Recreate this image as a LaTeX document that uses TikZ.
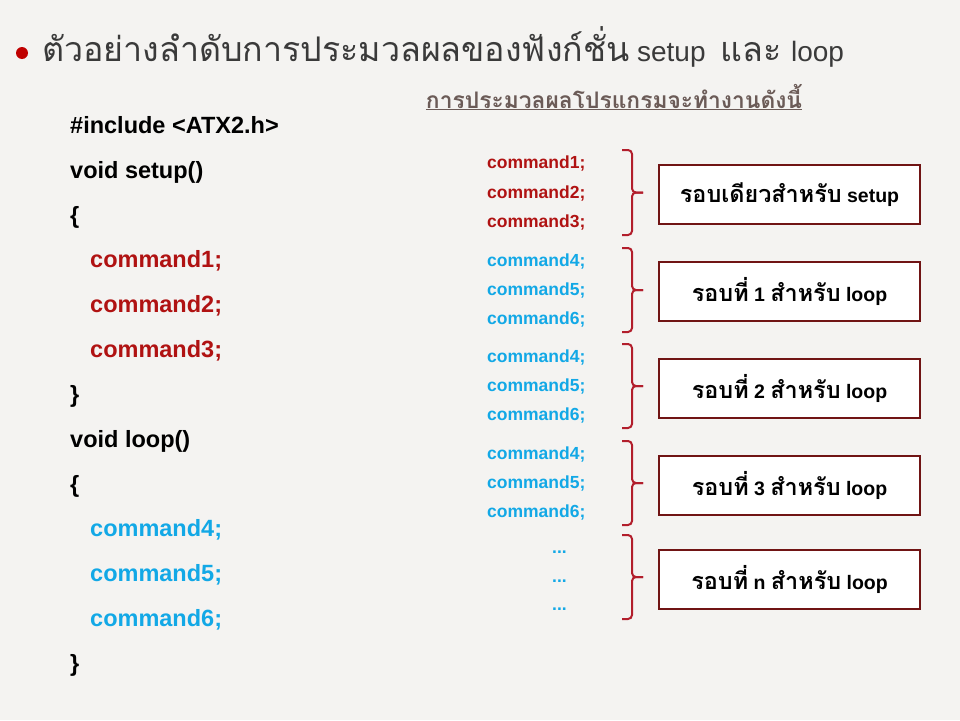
\documentclass[tikz,border=0pt]{standalone}
\usepackage{fontspec}
\setmainfont{Liberation Sans}
\newfontfamily\thaifont[Script=Thai,Scale=1.2]{Loma}
\newfontfamily\thaititle[Script=Thai,Scale=1.213]{Loma}
\usetikzlibrary{positioning}
\definecolor{pagebg}{HTML}{F4F3F1}
\definecolor{titlegray}{HTML}{3A3A3A}
\definecolor{subbrown}{HTML}{6B5B57}
\definecolor{bulletred}{HTML}{C00000}
\definecolor{codered}{HTML}{B01212}
\definecolor{codeblue}{HTML}{12A8E6}
\definecolor{bracered}{HTML}{B21E2C}
\definecolor{boxmaroon}{HTML}{701414}
\tikzset{
  titletext/.style={anchor=base west, inner sep=0pt, text=titlegray,
    font=\fontsize{28}{32}\selectfont},
  subtext/.style={anchor=base, inner sep=0pt, text=subbrown,
    font=\fontsize{19}{23}\selectfont\bfseries\thaifont},
  codeline/.style={anchor=base west, inner sep=0pt,
    font=\fontsize{23.5}{28}\selectfont\bfseries},
  runline/.style={anchor=base west, inner sep=0pt,
    font=\fontsize{17.5}{21}\selectfont\bfseries},
  roundbox/.style={draw=boxmaroon, line width=2pt, fill=white,
    minimum width=261pt, minimum height=59pt, inner sep=2pt,
    font=\fontsize{19.5}{23}\selectfont\bfseries},
  runbrace/.style={draw=bracered, line width=2pt, rounded corners=4pt},
}

\begin{document}
\begin{tikzpicture}[x=1pt, y=-1pt]
  \fill[pagebg] (0,0) rectangle (960,720);
  \useasboundingbox (0,0) rectangle (960,720);

  % heading
  \node[circle, fill=bulletred, minimum size=12pt, inner sep=0pt] (bullet) at (22,53) {};
  \node[titletext] (title) at (42,61)
    {{\thaititle ตัวอย่างลำดับการประมวลผลของฟังก์ชั่น} setup\hspace{7pt}
     {\thaititle และ}\hspace{2pt} loop};
  \node[subtext] (sub) at (614,108) {\underline{การประมวลผลโปรแกรมจะทำงานดังนี้}};

  % source code
  \node[codeline] (c1) at (70,133.5) {\#include <ATX2.h>};
  \node[codeline] (c2) at (70,178.5) {void setup()};
  \node[codeline] (c3) at (70,223.5) {\{};
  \node[codeline, text=codered] (c4) at (90,267.5) {command1;};
  \node[codeline, text=codered] (c5) at (90,312.5) {command2;};
  \node[codeline, text=codered] (c6) at (90,357.5) {command3;};
  \node[codeline] (c7) at (70,402.5) {\}};
  \node[codeline] (c8) at (70,447.5) {void loop()};
  \node[codeline] (c9) at (70,492.5) {\{};
  \node[codeline, text=codeblue] (c10) at (90,536.5) {command4;};
  \node[codeline, text=codeblue] (c11) at (90,581.5) {command5;};
  \node[codeline, text=codeblue] (c12) at (90,626.5) {command6;};
  \node[codeline] (c13) at (70,671.5) {\}};

  % run order
  \foreach \i/\y in {1/168.3, 2/198.3, 3/227.3}
    \node[runline, text=codered] (r0-\i) at (487,\y) {command\i;};
  \foreach \g/\y in {1/266.3, 2/362.3, 3/459.3} {
    \node[runline, text=codeblue] (r\g-4) at (487,\y) {command4;};
    \node[runline, text=codeblue] (r\g-5) at (487,\y+29) {command5;};
    \node[runline, text=codeblue] (r\g-6) at (487,\y+58) {command6;};
  }
  \foreach \i/\y in {1/553, 2/582, 3/610}
    \node[runline, text=codeblue] (rn-\i) at (552,\y) {...};

  % braces
  \foreach \g/\t/\b in {0/150/235, 1/248/332, 2/344/428, 3/441/525, 4/535/619} {
    \coordinate (bt\g) at (622,\t);
    \coordinate (bb\g) at (622,\b);
    \coordinate (bm\g) at (632,{(\t+\b)/2});
    \draw[runbrace] (bt\g) -| (bm\g) -- ++(11,0);
    \draw[runbrace] (bb\g) -| (bm\g) -- ++(11,0);
  }

  % passes
  \node[roundbox] (pass0) at (789.5,194.5) {{\thaifont รอบเดียวสำหรับ} setup};
  \node[roundbox] (pass1) at (789.5,291.5) {{\thaifont รอบที่} 1 {\thaifont สำหรับ} loop};
  \node[roundbox] (pass2) at (789.5,388.5) {{\thaifont รอบที่} 2 {\thaifont สำหรับ} loop};
  \node[roundbox] (pass3) at (789.5,485.5) {{\thaifont รอบที่} 3 {\thaifont สำหรับ} loop};
  \node[roundbox] (pass4) at (789.5,579) {{\thaifont รอบที่} n {\thaifont สำหรับ} loop};
\end{tikzpicture}
\end{document}
